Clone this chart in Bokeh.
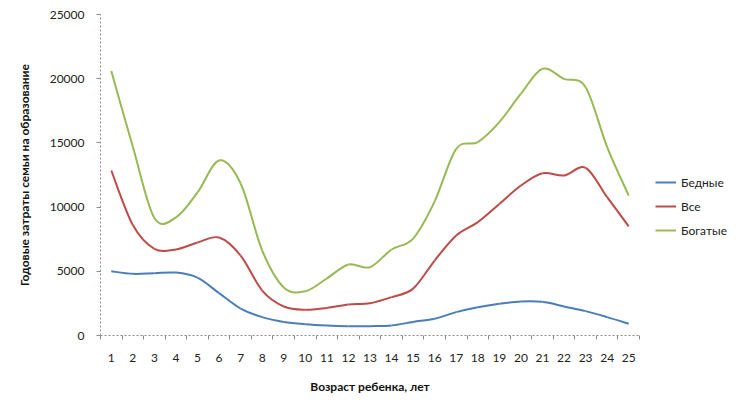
from bokeh.plotting import figure
from bokeh.models import FixedTicker, Legend, LegendItem, Range1d
from bokeh.embed import file_html
from bokeh.resources import INLINE

ages = list(range(1, 26))
tick_labels = [str(a) for a in ages]
poor = [5000, 4800, 4850, 4900, 4500, 3300, 2100, 1430, 1060, 880, 780, 730, 730, 780,
        1060, 1300, 1820, 2200, 2470, 2650, 2620, 2260, 1900, 1430, 910]
allf = [12850, 8600, 6750, 6700, 7240, 7630, 6230, 3500, 2260, 2000, 2150, 2410, 2520, 2990,
        3650, 5840, 7790, 8830, 10250, 11680, 12640, 12460, 13060, 10770, 8500]
rich = [20600, 14700, 9150, 9200, 11140, 13630, 11840, 6620, 3740, 3450, 4440, 5530, 5320, 6700,
        7550, 10450, 14540, 15060, 16620, 18830, 20770, 19990, 19340, 14670, 10900]
series_names = ["Бедные", "Все", "Богатые"]
colors = ["#4A7EBB", "#BE4B48", "#98B954"]
y_ticks = [0, 5000, 10000, 15000, 20000, 25000]

FONT = "Lato"

p = figure(width=734, height=391, frame_width=539, frame_height=321,
           min_border_left=100, min_border_top=14, min_border_bottom=56, min_border_right=95,
           output_backend="svg", toolbar_location=None,
           x_range=Range1d(0.5, 25.5), y_range=Range1d(0, 25000))
p.outline_line_color = None
p.xgrid.visible = False
p.ygrid.visible = False


def bezier_segments(xs, ys):
    n = len(xs)
    out = dict(x0=[], y0=[], x1=[], y1=[], cx0=[], cy0=[], cx1=[], cy1=[])
    for i in range(n - 1):
        im1 = max(i - 1, 0)
        ip2 = min(i + 2, n - 1)
        out["x0"].append(xs[i]); out["y0"].append(ys[i])
        out["x1"].append(xs[i + 1]); out["y1"].append(ys[i + 1])
        out["cx0"].append(xs[i] + (xs[i + 1] - xs[im1]) / 6)
        out["cy0"].append(ys[i] + (ys[i + 1] - ys[im1]) / 6)
        out["cx1"].append(xs[i + 1] - (xs[ip2] - xs[i]) / 6)
        out["cy1"].append(ys[i + 1] - (ys[ip2] - ys[i]) / 6)
    return out


items = []
for name, vals, col in zip(series_names, [poor, allf, rich], colors):
    seg = bezier_segments(ages, vals)
    r = p.bezier(line_color=col, line_width=2, **seg)
    items.append(LegendItem(label=name, renderers=[r]))

# axes
for ax in (p.xaxis[0], p.yaxis[0]):
    ax.axis_line_color = "#8C8C8C"
    ax.axis_line_dash = "2 2"
    ax.major_label_text_font = FONT
    ax.major_label_text_font_size = "12px"
    ax.major_label_text_color = "#222222"
    ax.axis_label_text_font = FONT
    ax.axis_label_text_font_size = "12px"
    ax.axis_label_text_font_style = "bold"
    ax.axis_label_text_color = "#111111"

p.xaxis.ticker = FixedTicker(ticks=ages, minor_ticks=[a - 0.5 for a in ages] + [25.5])
p.xaxis.major_label_overrides = {a: t for a, t in zip(ages, tick_labels)}
p.xaxis.major_tick_line_color = None
p.xaxis.minor_tick_line_color = "#8C8C8C"
p.xaxis.minor_tick_in = 0
p.xaxis.minor_tick_out = 4
p.xaxis.major_label_standoff = 12
p.xaxis.axis_label = "Возраст ребенка, лет"
p.xaxis.axis_label_standoff = 14

p.yaxis.ticker = FixedTicker(ticks=y_ticks, minor_ticks=[])
p.yaxis.major_tick_line_color = "#8C8C8C"
p.yaxis.major_tick_in = 0
p.yaxis.major_tick_out = 4
p.yaxis.minor_tick_line_color = None
p.yaxis.major_label_standoff = 12
p.yaxis.axis_label = "Годовые затраты семьи на образование"
p.yaxis.axis_label_standoff = 15

legend = Legend(items=items, location=(16, 95), border_line_color=None,
                background_fill_alpha=0, label_text_font=FONT, label_text_font_size="12px",
                label_text_color="#222222", glyph_width=21, glyph_height=20,
                label_height=20, spacing=4, padding=0, margin=0, label_standoff=5)
p.add_layout(legend, "right")

open("out.html", "w").write(file_html(p, INLINE))
